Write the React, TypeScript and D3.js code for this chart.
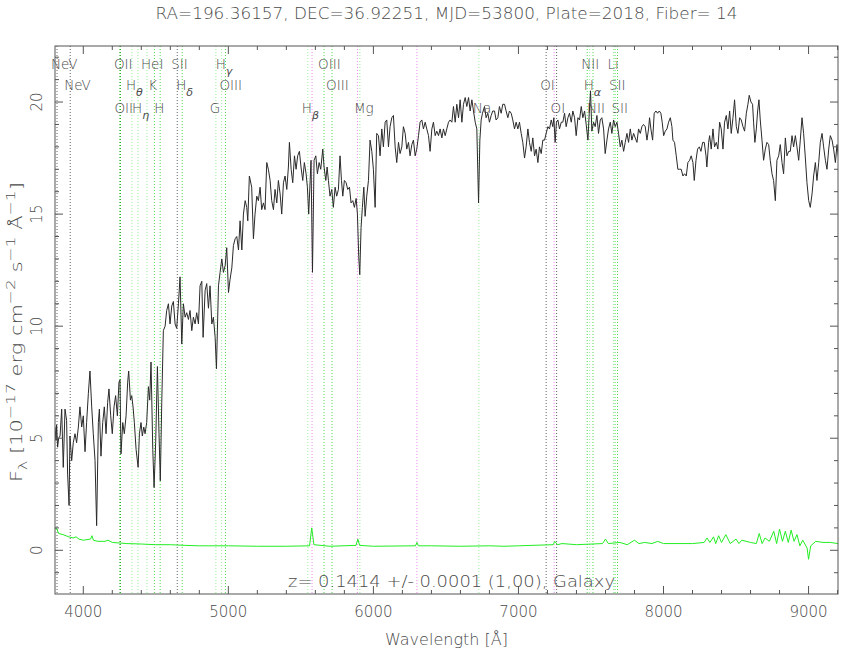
import React from 'react';
import * as d3 from 'd3';

const TITLE = 'RA=196.36157, DEC=36.92251, MJD=53800, Plate=2018, Fiber= 14';
const Z_NOTE = 'z= 0.1414 +/- 0.0001 (1,00), Galaxy';
const X_LABEL = 'Wavelength [Å]';
const X_TICKS = [4000, 5000, 6000, 7000, 8000, 9000];
const Y_TICKS = [0, 5, 10, 15, 20];
const X_DOMAIN = [3805, 9203];
const Y_DOMAIN = [-1.95, 22.5];

const specWave = [3805,3812,3816,3823,3830,3840,3851,3862,3874,3885,3892,3902,3908,3920,3931,3943,3954,3966,3977,3989,4000,4012,4023,4035,4046,4058,4069,4081,4092,4104,4111,4122,4134,4145,4157,4168,4177,4189,4200,4212,4223,4235,4246,4253,4260,4272,4283,4295,4306,4313,4325,4334,4343,4352,4364,4378,4387,4398,4407,4417,4426,4437,4449,4458,4467,4479,4488,4499,4511,4522,4531,4541,4552,4564,4575,4587,4598,4610,4621,4633,4644,4656,4667,4679,4690,4702,4713,4725,4736,4748,4759,4771,4782,4794,4805,4817,4826,4840,4851,4863,4874,4886,4897,4909,4918,4932,4943,4955,4966,4978,4989,5001,5012,5024,5035,5047,5058,5070,5081,5093,5104,5116,5127,5134,5145,5161,5173,5184,
5196,5207,5219,5230,5242,5253,5265,5276,5288,5299,5311,5322,5334,5345,5357,5368,5380,5391,5403,5414,5421,5433,5444,5456,5467,5478,5490,5501,5513,5524,5536,5545,5554,5564,5570,5580,5591,5603,5614,5626,5637,5651,5660,5672,5681,5690,5701,5713,5724,5736,5747,5759,5770,5780,5789,5800,5812,5823,5835,5846,5858,5869,5881,5890,5899,5906,5915,5924,5934,5943,5954,5966,5977,5989,6000,6012,6023,6035,6046,6058,6069,6081,6092,6104,6115,6127,6138,6150,6161,6173,6184,6196,6207,6219,6230,6242,6253,6265,6276,6288,6299,6311,6322,6334,6345,6357,6368,6380,6391,6403,6414,6426,6437,6449,6460,6472,6483,6495,6506,6518,6529,
6541,6552,6564,6575,6587,6598,6610,6621,6633,6644,6656,6667,6679,6690,6702,6713,6725,6734,6743,6752,6766,6777,6789,6800,6812,6823,6835,6846,6858,6869,6881,6892,6904,6915,6927,6938,6950,6961,6973,6984,6996,7007,7019,7030,7042,7053,7065,7076,7088,7099,7111,7122,7134,7145,7157,7168,7180,7191,7203,7214,7226,7237,7244,7253,7262,7272,7283,7295,7306,7318,7329,7341,7352,7364,7375,7387,7398,7410,7421,7433,7444,7456,7467,7479,7488,7497,7506,7518,7529,7541,7552,7564,7575,7587,7598,7610,7621,7633,7644,7656,7667,7679,7690,7702,7713,7725,7736,7748,7759,7771,7782,7794,7805,7817,7828,7840,7851,7862,7874,
7886,7897,7904,7913,7925,7936,7948,7959,7971,7982,7991,8001,8012,8024,8035,8047,8058,8065,8076,8088,8099,8111,8122,8134,8145,8157,8168,8180,8191,8203,8212,8224,8235,8247,8258,8270,8281,8293,8299,8311,8318,8329,8341,8352,8364,8375,8387,8398,8410,8421,8433,8444,8456,8467,8479,8490,8502,8513,8525,8536,8548,8559,8571,8582,8591,8603,8614,8621,8630,8640,8649,8658,8667,8679,8690,8702,8713,8725,8736,8748,8759,8771,8782,8794,8805,8817,8828,8840,8851,8863,8874,8886,8897,8909,8920,8932,8943,8955,8966,8978,8989,9001,9012,9024,9035,9047,9058,9070,9081,9093,9104,9116,9127,9139,9150,9162,9173,9185,9196,9207,9219];

const specFlux = [5.5,4.9,5.6,4.6,5.0,5.1,6.3,3.7,6.3,5.8,3.4,2.0,5.1,4.0,4.8,5.2,4.8,5.5,6.4,5.5,6.0,4.4,5.7,7.0,8.0,6.4,5.2,4.0,1.1,5.7,6.3,4.2,5.7,6.4,5.2,6.6,7.2,6.0,5.2,6.4,6.9,6.0,7.5,7.6,4.3,5.7,5.2,6.0,7.5,8.0,6.7,6.9,6.4,5.7,4.5,3.7,5.2,5.7,5.1,5.5,5.2,5.7,7.3,6.7,8.4,4.5,2.8,4.8,8.2,5.2,3.1,6.6,9.8,10.0,10.7,11.0,10.1,10.9,11.1,10.1,9.9,11.0,12.2,9.2,11.0,10.4,10.6,10.3,10.7,9.8,10.4,10.1,10.6,10.1,11.8,12.0,9.5,11.6,11.9,10.8,11.8,10.1,10.4,9.5,8.1,11.8,12.4,13.0,12.4,12.7,13.5,11.5,12.1,12.6,13.6,13.9,14.0,13.4,14.7,13.4,15.0,15.6,15.3,14.7,16.7,16.2,13.9,15.0,
15.8,15.6,16.2,15.2,15.5,15.2,17.3,17.0,16.5,15.6,15.2,16.1,15.5,16.5,15.9,15.0,16.4,16.7,16.1,17.1,18.2,17.0,16.4,17.6,17.0,17.6,17.8,17.1,16.5,17.3,16.8,16.2,15.0,16.5,17.4,12.4,17.4,17.6,16.8,17.3,17.0,17.9,17.1,16.5,17.1,16.5,15.8,16.1,15.3,16.2,15.8,16.1,17.6,16.5,15.8,16.5,16.4,16.1,16.2,15.5,15.6,15.3,15.7,15.0,13.1,12.3,14.4,15.3,16.2,14.9,15.8,16.5,18.3,17.8,17.0,15.3,18.6,18.5,17.6,18.8,18.0,19.1,19.2,18.0,18.9,19.3,19.4,18.0,17.3,18.2,17.7,18.0,18.9,18.6,17.9,18.2,17.6,18.1,18.3,17.6,17.9,18.5,19.1,19.2,18.8,19.1,18.8,18.5,17.8,18.8,19.1,18.5,18.7,18.5,18.8,18.4,18.8,18.5,18.8,19.1,19.2,
19.1,19.8,19.1,19.9,19.3,20.1,19.1,19.9,20.2,19.8,20.2,19.6,20.1,19.6,19.1,18.8,15.5,18.3,19.2,19.5,19.8,19.3,19.5,19.1,19.4,19.6,19.6,19.2,19.3,19.8,19.5,19.9,19.9,19.6,19.3,19.6,19.5,19.2,18.8,19.1,18.8,19.1,18.6,18.2,17.5,18.0,18.8,18.2,17.8,18.4,17.6,17.9,17.3,18.0,17.7,18.3,18.3,18.6,18.9,18.8,19.2,18.9,19.3,18.2,19.1,19.2,18.8,19.1,19.1,19.5,18.9,19.3,19.5,19.1,19.6,19.3,18.5,19.3,19.2,19.8,19.3,19.6,19.0,18.3,19.5,20.5,18.7,19.1,18.9,19.4,18.6,19.2,19.3,18.8,17.7,18.3,18.8,19.1,18.6,19.2,18.9,19.1,18.6,18.0,18.3,17.8,18.2,18.6,18.2,18.8,18.3,18.6,18.4,18.2,18.8,18.6,18.9,19.0,18.9,
18.3,18.8,19.3,18.8,18.3,19.5,19.6,19.5,19.6,19.5,19.1,18.5,18.7,18.8,19.1,19.3,18.9,18.3,18.2,17.6,17.0,17.0,17.0,16.7,16.8,16.7,17.3,17.4,17.6,17.3,16.5,17.4,17.9,18.0,17.8,18.2,18.2,17.6,17.1,18.2,18.5,17.9,18.8,18.0,18.2,17.9,19.1,18.8,17.9,19.1,19.4,18.8,19.6,18.6,19.3,20.1,18.9,18.6,19.3,19.2,18.9,18.7,19.5,19.9,20.3,20.0,19.9,19.1,18.2,18.8,19.6,20.1,19.2,18.3,17.4,17.9,18.2,18.1,17.4,16.8,16.5,15.6,17.4,17.6,18.1,17.3,16.8,18.4,17.6,17.8,17.8,18.5,18.0,18.5,18.0,17.4,18.3,19.3,18.6,17.5,16.4,15.6,15.3,15.9,16.7,17.3,16.5,17.3,18.2,18.6,18.0,17.4,17.0,17.9,18.5,18.3,17.9,17.3,18.1,17.5,16.7];

const noiseWave = [3805,3815,3830,3860,3900,3930,3950,3970,4000,4050,4060,4070,4100,4150,4170,4200,4300,4400,4500,4600,4700,4800,5000,5200,5400,5560,5575,5590,5700,5880,5893,5905,6000,6290,6300,6310,6400,6600,6800,6900,7000,7240,7250,7270,7300,7400,7580,7600,7620,7700,7750,7800,7830,7870,7920,7960,8000,8100,8200,8280,8300,8320,8345,8360,8380,8400,8430,8460,8500,8520,8540,8600,8640,8660,8680,8700,8730,8760,8780,8800,8820,8840,8860,8880,8900,8920,8940,8960,8990,9000,9015,9050,9100,9150,9203];
const noiseFlux = [0.95,1.0,0.75,0.7,0.6,0.55,0.6,0.5,0.45,0.5,0.65,0.45,0.4,0.4,0.45,0.35,0.3,0.28,0.25,0.25,0.22,0.2,0.2,0.18,0.18,0.2,1.0,0.25,0.18,0.22,0.5,0.22,0.18,0.2,0.35,0.2,0.2,0.18,0.2,0.18,0.2,0.25,0.4,0.25,0.3,0.25,0.3,0.5,0.3,0.35,0.25,0.45,0.3,0.35,0.3,0.4,0.3,0.3,0.3,0.35,0.55,0.35,0.6,0.3,0.65,0.35,0.7,0.3,0.5,0.3,0.45,0.35,0.3,0.75,0.3,0.55,0.4,0.85,0.3,0.95,0.4,0.85,0.35,0.9,0.4,0.7,0.2,0.45,0.1,-0.4,0.2,0.4,0.35,0.35,0.3];

const lineName = ['NeV','NeV','OII','OII','H','H','HeI','K','H','SII','H','G','H','OIII','H','OIII','OIII','Mg','Na','OI','OI','NII','H','NII','Li','SII','SII'];
const lineSub = ['','','','','θ','η','','','','','δ','','γ','','β','','','','','','','','α','','','',''];
const lineWave = [3819,3910,4253,4256,4335,4377,4439,4490,4530,4648,4682,4914,4954,4980,5548,5660,5715,5907,6727,7191,7263,7474,7491,7514,7655,7666,7683];
const lineRow = [0,1,0,2,1,2,0,1,2,0,1,2,0,1,2,0,1,2,2,1,2,0,1,2,0,1,2];
const lineKind = ['n','n','s','s','w','w','w','m','m','n','m','w','w','m','w','m','m','w','w','n','n','m','w','m','w','m','m'];
const skyWave = [5577, 5890, 6300, 7246];

const W = 842, H = 654;
const L = 55, R = 838, T = 46, B = 594;
const FONT = '"DejaVu Sans", sans-serif';
const TXT = '#4a4a4a';
const KIND_COLOR: Record<string, string> = { n: '#666666', s: '#22b522', m: '#4ddc4d', w: '#9af09a' };
const ROW_Y = [69, 90, 113];

export default function App() {
  const x = d3.scaleLinear().domain(X_DOMAIN).range([L, R]);
  const y = d3.scaleLinear().domain(Y_DOMAIN).range([B, T]);
  const spec = specWave.map((w, i) => [w, specFlux[i]] as [number, number]);
  const noise = noiseWave.map((w, i) => [w, noiseFlux[i]] as [number, number]);
  const line = d3.line<[number, number]>().x(d => x(d[0])).y(d => y(d[1]));

  const xMinor = d3.range(3800, 9300, 200).filter(v => v > X_DOMAIN[0] && v < X_DOMAIN[1] && v % 1000 !== 0);
  const yMinor = d3.range(-1, 23, 1).filter(v => v > Y_DOMAIN[0] && v < Y_DOMAIN[1] && v % 5 !== 0);
  const maj = 8, mnr = 4;
  const ax = '#555';

  return (
    <svg width={W} height={H} style={{ position: 'absolute', left: 0, top: 0, background: '#fff' }} fontFamily={FONT}>
      <defs>
        <clipPath id="plot"><rect x={L} y={T} width={R - L} height={B - T} /></clipPath>
      </defs>
      <rect x={0} y={0} width={W} height={H} fill="#fff" />
      <text x={(L + R) / 2} y={19} textAnchor="middle" fontSize={15} fill={TXT} fontWeight={200}
        textLength={582} lengthAdjust="spacingAndGlyphs">{TITLE}</text>

      <g clipPath="url(#plot)">
        {skyWave.map((w, i) => (
          <line key={'s' + i} x1={x(w)} x2={x(w)} y1={T} y2={B} stroke="#f08cf0" strokeWidth={1} strokeDasharray="1,2" />
        ))}
        {lineWave.map((w, i) => (
          <line key={'l' + i} x1={x(w)} x2={x(w)} y1={T} y2={B} stroke={KIND_COLOR[lineKind[i]]} strokeWidth={1} strokeDasharray="1,2" />
        ))}
      </g>
      {lineWave.map((w, i) => (
        <text key={'t' + i} x={x(w) - 6} y={ROW_Y[lineRow[i]]} fontSize={13.5} fill={TXT} fontWeight={200}>
          {lineName[i]}
          {lineSub[i] && <tspan dy={6} fontSize={11} fontStyle="italic">{lineSub[i]}</tspan>}
        </text>
      ))}

      <g clipPath="url(#plot)">
        <path d={line(noise) || ''} fill="none" stroke="#22ee22" strokeWidth={1} />
        <path d={line(spec) || ''} fill="none" stroke="#2a2a2a" strokeWidth={1} strokeLinejoin="round" />
      </g>

      <rect x={L} y={T} width={R - L} height={B - T} fill="none" stroke={ax} strokeWidth={1} />
      {X_TICKS.map(v => (
        <g key={'xt' + v}>
          <line x1={x(v)} x2={x(v)} y1={B} y2={B - maj} stroke={ax} />
          <line x1={x(v)} x2={x(v)} y1={T} y2={T + maj} stroke={ax} />
          <text x={x(v)} y={617} textAnchor="middle" fontSize={15} fill={TXT} fontWeight={200}>{v}</text>
        </g>
      ))}
      {xMinor.map(v => (
        <g key={'xm' + v}>
          <line x1={x(v)} x2={x(v)} y1={B} y2={B - mnr} stroke={ax} />
          <line x1={x(v)} x2={x(v)} y1={T} y2={T + mnr} stroke={ax} />
        </g>
      ))}
      {Y_TICKS.map(v => (
        <g key={'yt' + v}>
          <line x1={L} x2={L + maj} y1={y(v)} y2={y(v)} stroke={ax} />
          <line x1={R} x2={R - maj} y1={y(v)} y2={y(v)} stroke={ax} />
          <text transform={`translate(42,${y(v)}) rotate(-90)`} textAnchor="middle" fontSize={15} fill={TXT} fontWeight={200}>{v}</text>
        </g>
      ))}
      {yMinor.map(v => (
        <g key={'ym' + v}>
          <line x1={L} x2={L + mnr} y1={y(v)} y2={y(v)} stroke={ax} />
          <line x1={R} x2={R - mnr} y1={y(v)} y2={y(v)} stroke={ax} />
        </g>
      ))}

      <text x={288} y={587} fontSize={15} fill={TXT} fontWeight={200} textLength={327} lengthAdjust="spacingAndGlyphs">{Z_NOTE}</text>
      <text x={(L + R) / 2} y={645} textAnchor="middle" fontSize={15} fill={TXT} fontWeight={200}
        textLength={123} lengthAdjust="spacingAndGlyphs">{X_LABEL}</text>
      <text transform={`translate(22,332) rotate(-90)`} textAnchor="middle" fontSize={16} fill={TXT} fontWeight={200}
        textLength={300} lengthAdjust="spacingAndGlyphs">
        F<tspan dy={5} fontSize={12}>λ</tspan>
        <tspan dy={-5}> [10</tspan><tspan dy={-7} fontSize={13}>−17</tspan>
        <tspan dy={7}> erg cm</tspan><tspan dy={-7} fontSize={13}>−2</tspan>
        <tspan dy={7}> s</tspan><tspan dy={-7} fontSize={13}>−1</tspan>
        <tspan dy={7}> Å</tspan><tspan dy={-7} fontSize={13}>−1</tspan>
        <tspan dy={7}>]</tspan>
      </text>
    </svg>
  );
}
